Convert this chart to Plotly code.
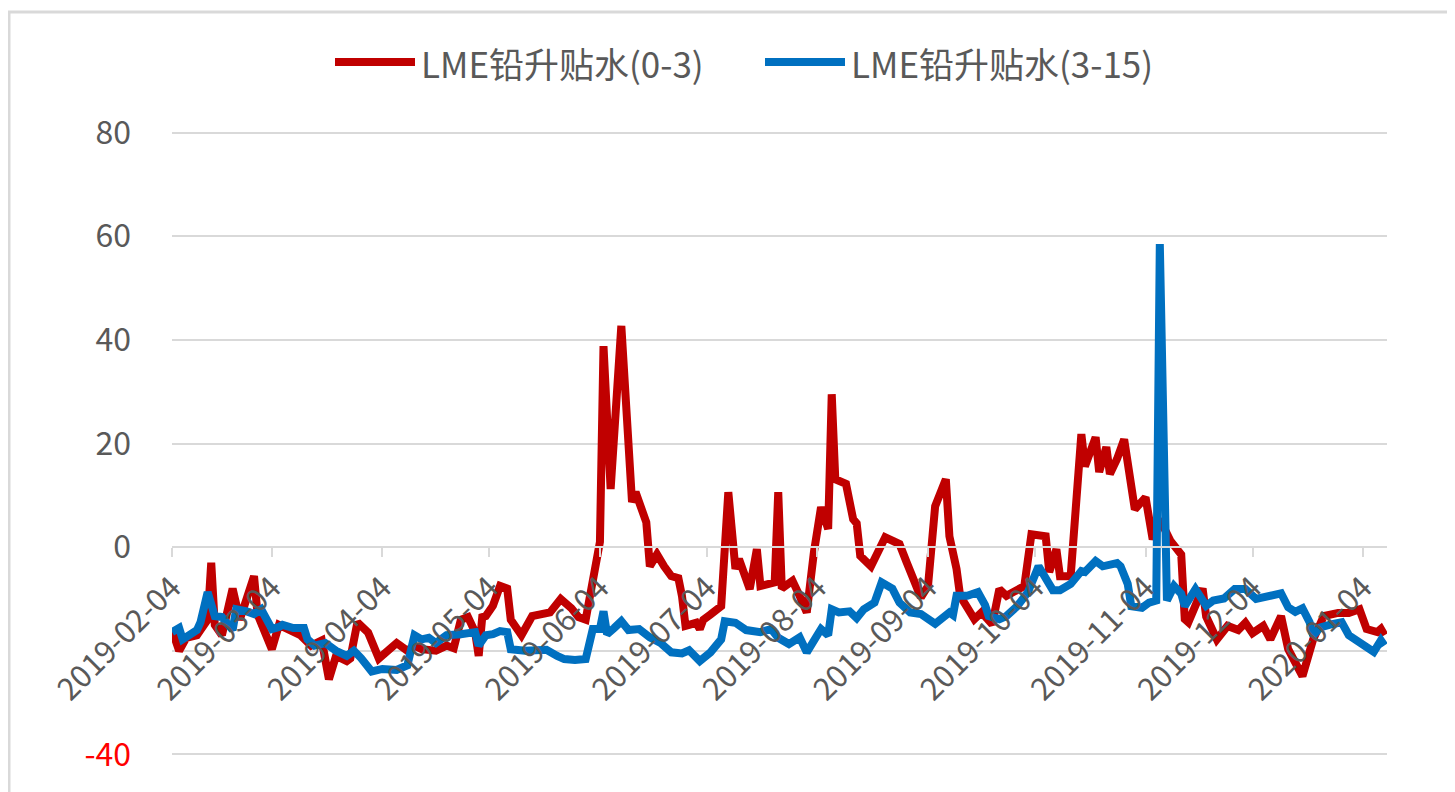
import plotly.graph_objects as go

# ---------------- data ----------------
red_dates = ["2019-02-04","2019-02-06","2019-02-08","2019-02-11","2019-02-12","2019-02-14","2019-02-15","2019-02-16","2019-02-18","2019-02-21","2019-02-23","2019-02-27","2019-02-28","2019-03-04","2019-03-06","2019-03-09","2019-03-12","2019-03-15","2019-03-18","2019-03-20","2019-03-22","2019-03-25","2019-03-26","2019-03-28","2019-03-31","2019-04-03","2019-04-08","2019-04-11","2019-04-13","2019-04-15","2019-04-19","2019-04-22","2019-04-24","2019-04-26","2019-04-28","2019-04-30","2019-05-01","2019-05-02","2019-05-03","2019-05-05","2019-05-07","2019-05-09","2019-05-10","2019-05-13","2019-05-16","2019-05-21","2019-05-24","2019-05-27","2019-05-29","2019-05-31","2019-06-02","2019-06-04","2019-06-05","2019-06-07","2019-06-10","2019-06-13","2019-06-14","2019-06-17","2019-06-18","2019-06-20","2019-06-22","2019-06-24","2019-06-26","2019-06-27","2019-06-28","2019-07-01","2019-07-02","2019-07-03","2019-07-05","2019-07-08","2019-07-10","2019-07-12","2019-07-13","2019-07-16","2019-07-18","2019-07-19","2019-07-23","2019-07-24","2019-07-25","2019-07-28","2019-07-30","2019-08-01","2019-08-03","2019-08-05","2019-08-07","2019-08-08","2019-08-09","2019-08-12","2019-08-14","2019-08-15","2019-08-16","2019-08-19","2019-08-23","2019-08-27","2019-08-29","2019-08-30","2019-09-02","2019-09-04","2019-09-06","2019-09-09","2019-09-10","2019-09-12","2019-09-13","2019-09-17","2019-09-19","2019-09-22","2019-09-24","2019-09-26","2019-09-29","2019-10-01","2019-10-03","2019-10-07","2019-10-08","2019-10-10","2019-10-11","2019-10-14","2019-10-17","2019-10-18","2019-10-21","2019-10-22","2019-10-24","2019-10-25","2019-10-27","2019-10-29","2019-11-01","2019-11-04","2019-11-06","2019-11-08","2019-11-11","2019-11-14","2019-11-15","2019-11-16","2019-11-20","2019-11-21","2019-11-24","2019-11-27","2019-11-30","2019-12-02","2019-12-04","2019-12-07","2019-12-09","2019-12-12","2019-12-14","2019-12-18","2019-12-21","2019-12-24","2019-12-28","2019-12-31","2020-01-03","2020-01-05","2020-01-08","2020-01-09","2020-01-10"]
red_values = [-16,-20,-17.5,-17,-16,-14,-3,-15,-17,-8,-14,-5.6,-13,-19.7,-15,-16,-17,-19,-18,-25.5,-21,-22,-21.5,-14.5,-16.5,-21.5,-18.5,-20,-19,-19.7,-20,-19,-19.5,-14,-13.5,-16.4,-21,-13.5,-13.3,-11.3,-7.5,-8,-14,-17,-13.3,-12.6,-10,-11.8,-13.5,-14,-5.6,1,38.8,11.2,42.7,8.7,10.6,4.8,-3.7,-1.4,-3.7,-5.6,-6,-9.4,-15.2,-14.6,-15.8,-14,-13,-11.4,10.6,-4.2,-2.3,-8.1,-0.4,-7.5,-6.8,10.6,-8,-6.5,-9.4,-12.6,-1,7.7,3.5,29.5,13.1,12.2,5.4,4.6,-1.7,-3.7,1.9,0.6,-2.9,-4.8,-9.7,-7.5,7.9,13.1,2.1,-4.2,-9.4,-13.9,-12.6,-14.9,-8.1,-9.4,-8,-7.5,2.5,2.1,-4.8,-0.4,-5.6,-5.6,21.8,15.6,21.2,14.5,19.3,14.1,17,20.8,7.3,9.6,1.5,5.4,1.2,-1.4,-13.9,-14.5,-8,-13.4,-17.8,-15.2,-16,-14.6,-16.6,-15.2,-17.8,-13.3,-19.7,-24.9,-17.8,-13.3,-12.7,-12.7,-12,-15.8,-16.4,-15.8,-17]

blue_dates = ["2019-02-04","2019-02-06","2019-02-07","2019-02-11","2019-02-12","2019-02-14","2019-02-16","2019-02-18","2019-02-21","2019-02-22","2019-02-25","2019-02-27","2019-03-01","2019-03-04","2019-03-06","2019-03-07","2019-03-10","2019-03-13","2019-03-14","2019-03-16","2019-03-19","2019-03-22","2019-03-25","2019-03-27","2019-03-29","2019-04-01","2019-04-04","2019-04-08","2019-04-11","2019-04-13","2019-04-15","2019-04-17","2019-04-19","2019-04-22","2019-04-26","2019-04-30","2019-05-01","2019-05-03","2019-05-05","2019-05-07","2019-05-09","2019-05-10","2019-05-14","2019-05-17","2019-05-20","2019-05-23","2019-05-25","2019-05-28","2019-05-31","2019-06-02","2019-06-04","2019-06-05","2019-06-06","2019-06-08","2019-06-10","2019-06-12","2019-06-15","2019-06-18","2019-06-21","2019-06-24","2019-06-27","2019-06-29","2019-07-02","2019-07-05","2019-07-08","2019-07-09","2019-07-12","2019-07-15","2019-07-19","2019-07-22","2019-07-24","2019-07-27","2019-07-30","2019-08-01","2019-08-03","2019-08-05","2019-08-07","2019-08-08","2019-08-10","2019-08-13","2019-08-15","2019-08-17","2019-08-20","2019-08-21","2019-08-22","2019-08-25","2019-08-27","2019-08-30","2019-09-02","2019-09-06","2019-09-08","2019-09-10","2019-09-11","2019-09-12","2019-09-15","2019-09-18","2019-09-20","2019-09-21","2019-09-24","2019-09-26","2019-09-29","2019-10-02","2019-10-05","2019-10-07","2019-10-09","2019-10-11","2019-10-14","2019-10-17","2019-10-18","2019-10-21","2019-10-23","2019-10-27","2019-10-28","2019-10-30","2019-10-31","2019-11-03","2019-11-05","2019-11-07","2019-11-08","2019-11-10","2019-11-12","2019-11-14","2019-11-15","2019-11-18","2019-11-21","2019-11-23","2019-11-26","2019-11-29","2019-12-02","2019-12-05","2019-12-09","2019-12-12","2019-12-14","2019-12-16","2019-12-18","2019-12-20","2019-12-21","2019-12-23","2019-12-26","2019-12-29","2019-12-31","2020-01-03","2020-01-05","2020-01-07","2020-01-09","2020-01-10"]
blue_values = [-16.4,-15.6,-17.8,-16,-14.5,-8.7,-13.3,-13.5,-16,-12,-12.4,-12.9,-12,-15.8,-15.4,-15,-15.6,-15.6,-17.8,-19,-18.5,-20,-21,-20,-21.4,-24,-23.5,-23.7,-22.8,-17,-17.8,-17.5,-18.5,-17,-16.8,-16.4,-19,-17,-16.8,-16.2,-16.4,-19.7,-20,-19.8,-19.8,-21,-21.6,-21.8,-21.6,-15.8,-15.8,-12.4,-16.8,-15.6,-14.3,-16,-15.8,-17.4,-18.5,-20.3,-20.5,-19.9,-22,-20.3,-17.8,-14.3,-14.6,-16,-16.4,-15.8,-17.5,-18.7,-17.4,-20.3,-17.8,-15.8,-17,-12,-12.6,-12.4,-13.7,-12,-10.7,-8.7,-6.8,-8,-10.7,-12.6,-12.9,-14.8,-13.8,-12.6,-13.1,-9.4,-9.4,-8.7,-11.2,-13.3,-13.9,-13.3,-11.4,-8.7,-3.7,-6.2,-8.3,-8.3,-7.1,-4.6,-4.8,-2.7,-3.7,-3.1,-3.7,-7.1,-11.4,-11.7,-10.7,-10.3,58.5,-10.3,-7.5,-9,-11.4,-8.1,-11.3,-10.3,-9.9,-8.1,-8.1,-10,-9.3,-8.9,-11.6,-12.5,-11.8,-14.5,-17.1,-15.5,-14.9,-14.5,-17,-18.3,-19.6,-20.2,-18,-19]

series_names = ["LME铅升贴水(0-3)", "LME铅升贴水(3-15)"]
tick_dates = ["2019-02-04","2019-03-04","2019-04-04","2019-05-04","2019-06-04","2019-07-04",
              "2019-08-04","2019-09-04","2019-10-04","2019-11-04","2019-12-04","2020-01-04"]
y_ticks = [-40, -20, 0, 20, 40, 60, 80]
y_labels = ["<span style='color:#FF0000'>-40</span>", "", "0", "20", "40", "60", "80"]

# ---------------- style ----------------
RED = "#C00000"
BLUE = "#0070C0"
GRID = "#D9D9D9"
TXT = "#595959"
FONT = "Noto Sans CJK SC, Noto Sans, sans-serif"

OFF = 8                      # page body margin
W, H = 1455 - OFF, 792 - OFF
ML, MR, MT, MB = 164, 68, 122, 35
PW, PH = W - ML - MR, H - MT - MB
Y_RANGE = [-40.5, 80.5]


def px(x):
    """screen x -> paper fraction"""
    return (x - OFF - ML) / PW


def py(y):
    """screen y -> paper fraction"""
    return (H - MB - (y - OFF)) / PH


fig = go.Figure()
fig.add_trace(go.Scatter(x=red_dates, y=red_values, mode="lines", name=series_names[0],
                         line=dict(color=RED, width=8), showlegend=False))
fig.add_trace(go.Scatter(x=blue_dates, y=blue_values, mode="lines", name=series_names[1],
                         line=dict(color=BLUE, width=8), showlegend=False))

fig.update_layout(
    width=W, height=H,
    margin=dict(l=ML, r=MR, t=MT, b=MB, pad=0),
    paper_bgcolor="white", plot_bgcolor="white",
    font=dict(family=FONT, color=TXT, size=30),
    xaxis=dict(
        type="date",
        range=["2019-02-04", "2020-01-10 17:00"],
        tickvals=tick_dates, ticktext=tick_dates,
        tickangle=-45,
        tickfont=dict(size=31, color=TXT),
        showgrid=False, zeroline=False,
        showline=True, linecolor=GRID, linewidth=2,
        ticks="outside", ticklen=9, tickwidth=2, tickcolor=GRID,
        anchor="free", position=(0 - Y_RANGE[0]) / (Y_RANGE[1] - Y_RANGE[0]),
    ),
    yaxis=dict(
        range=Y_RANGE,
        tickvals=y_ticks, ticktext=y_labels,
        tickfont=dict(size=32, color=TXT),
        showgrid=True, gridcolor=GRID, gridwidth=2,
        zeroline=False, showline=False, ticks="",
        ticklabelstandoff=40,
    ),
    showlegend=False,
)

# custom legend (long line samples, as in the original)
legend_y = py(62)
for (x0, x1, tx, col, name) in [(335, 415, 419, RED, series_names[0]),
                                 (765, 845, 849, BLUE, series_names[1])]:
    fig.add_shape(type="line", xref="paper", yref="paper",
                  x0=px(x0), x1=px(x1), y0=legend_y, y1=legend_y,
                  line=dict(color=col, width=8))
    fig.add_annotation(xref="paper", yref="paper", x=px(tx), y=legend_y,
                       xanchor="left", yanchor="middle", showarrow=False,
                       text=name, font=dict(size=35, color=TXT, family=FONT))

# chart frame
fig.add_shape(type="rect", xref="paper", yref="paper",
              x0=px(9), x1=px(1480), y0=py(820), y1=py(12),
              line=dict(color=GRID, width=3), fillcolor="rgba(0,0,0,0)", layer="below")

fig.write_html("out.html")
